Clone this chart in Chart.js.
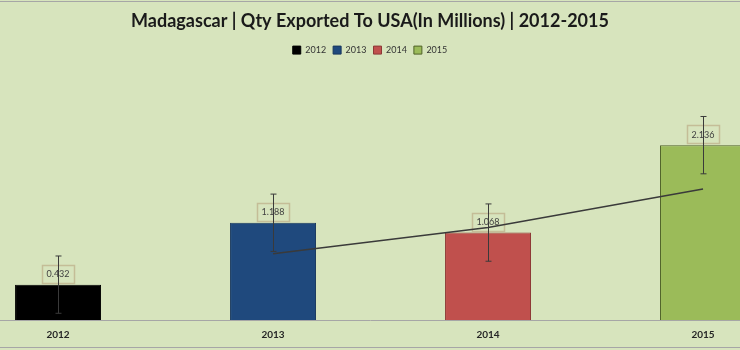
<!DOCTYPE html>
<html>
<head>
<meta charset="utf-8">
<script src="https://cdn.jsdelivr.net/npm/chart.js@4.4.1/dist/chart.umd.min.js"></script>
<style>
    html, body { margin: 0; padding: 0; background: #d7e4bd; }
    #wrap { width: 740px; height: 350px; position: relative; }
</style>
</head>
<body>
<div id="wrap"><canvas id="chart"></canvas></div>
<script>
// Data
const years = ['2012', '2013', '2014', '2015'];
const qty = [0.432, 1.188, 1.068, 2.136];
const errorAmount = [0.35, 0.35, 0.35, 0.35];
const movingAvg = [null, 0.81, 1.13, 1.60];

const barColors = ['#000000', '#1f497d', '#c0504d', '#9bbb59'];
const barBorders = ['#000000', '#17375e', '#8c3836', '#4f6228'];
const bgColor = '#d7e4bd';
const fontFamily = 'Lato, "Liberation Sans", sans-serif';

const barSets = years.map((year, i) => ({
    type: 'bar',
    label: year,
    data: [{ x: i, y: qty[i] }],
    backgroundColor: barColors[i],
    borderColor: barBorders[i],
    borderWidth: 1,
    grouped: false,
    barPercentage: 0.4,
    categoryPercentage: 1,
    order: 1
}));

const trendSet = {
    type: 'line',
    label: 'trend',
    data: movingAvg.map((v, i) => ({ x: i, y: v })).filter(p => p.y !== null),
    borderColor: '#3a3a3a',
    borderWidth: 1.5,
    pointRadius: 0,
    fill: false,
    tension: 0,
    order: 0
};

// background + frame lines
const frame = {
    id: 'frame',
    beforeDraw(chart) {
        const ctx = chart.ctx;
        ctx.save();
        ctx.fillStyle = bgColor;
        ctx.fillRect(0, 0, chart.width, chart.height);
        ctx.strokeStyle = '#a6a6a6';
        ctx.lineWidth = 1;
        ctx.beginPath();
        ctx.moveTo(0, 1.5);
        ctx.lineTo(chart.width, 1.5);
        ctx.moveTo(0, chart.height - 2.5);
        ctx.lineTo(chart.width, chart.height - 2.5);
        ctx.stroke();
        ctx.restore();
    }
};

// data labels and error bars, drawn just before the trend line
const labelsAndErrors = {
    id: 'labelsAndErrors',
    beforeDatasetDraw(chart, args) {
        if (chart.data.datasets[args.index].type !== 'line') return;
        const ctx = chart.ctx;
        const xs = chart.scales.x;
        const ys = chart.scales.y;
        ctx.save();
        ctx.font = '9px ' + fontFamily;
        ctx.textAlign = 'center';
        ctx.textBaseline = 'middle';
        qty.forEach((v, i) => {
            const x = xs.getPixelForValue(i);
            const y = ys.getPixelForValue(v);
            const text = v.toFixed(3);
            const w = Math.round(ctx.measureText(text).width) + 9;
            const h = 18;
            ctx.strokeStyle = '#c4bd97';
            ctx.lineWidth = 1.5;
            ctx.strokeRect(Math.round(x - w / 2) + 0.5, Math.round(y - 2 - h) + 0.5, w, h);
            ctx.fillStyle = '#404040';
            ctx.fillText(text, x, y - 2 - h / 2 + 0.5);
        });
        ctx.strokeStyle = '#3a3a3a';
        ctx.lineWidth = 1;
        qty.forEach((v, i) => {
            const x = Math.round(xs.getPixelForValue(i)) + 0.5;
            const top = ys.getPixelForValue(v + errorAmount[i]);
            const bottom = ys.getPixelForValue(v - errorAmount[i]);
            ctx.beginPath();
            ctx.moveTo(x, top);
            ctx.lineTo(x, bottom);
            ctx.moveTo(x - 3, top);
            ctx.lineTo(x + 3, top);
            ctx.moveTo(x - 3, bottom);
            ctx.lineTo(x + 3, bottom);
            ctx.stroke();
        });
        ctx.restore();
    }
};

new Chart(document.getElementById('chart'), {
    data: { datasets: [...barSets, trendSet] },
    options: {
        responsive: true,
        maintainAspectRatio: false,
        animation: false,
        layout: { padding: { left: 0, right: 0, top: 0, bottom: 0 } },
        plugins: {
            title: {
                display: true,
                text: 'Madagascar | Qty Exported To USA(In Millions) | 2012-2015',
                color: '#1a1a1a',
                font: { family: fontFamily, size: 18, weight: 'bold' },
                padding: { top: 10, bottom: 7 }
            },
            legend: {
                display: true,
                labels: {
                    filter: item => item.text !== 'trend',
                    boxWidth: 8,
                    boxHeight: 8,
                    padding: 7,
                    color: '#333333',
                    font: { family: fontFamily, size: 9 }
                }
            },
            tooltip: { enabled: false }
        },
        scales: {
            x: {
                type: 'linear',
                offset: false,
                min: -0.27,
                max: 3.172,
                grid: { display: false, drawTicks: false },
                border: { display: true, color: '#a6a6a6', width: 1 },
                ticks: {
                    stepSize: 1,
                    includeBounds: false,
                    padding: 9,
                    color: '#262626',
                    font: { family: fontFamily, size: 10, weight: 'bold' },
                    callback: v => years[v] ?? ''
                }
            },
            y: {
                display: false,
                min: 0,
                max: 3.12
            }
        }
    },
    plugins: [frame, labelsAndErrors]
});
</script>
</body>
</html>
